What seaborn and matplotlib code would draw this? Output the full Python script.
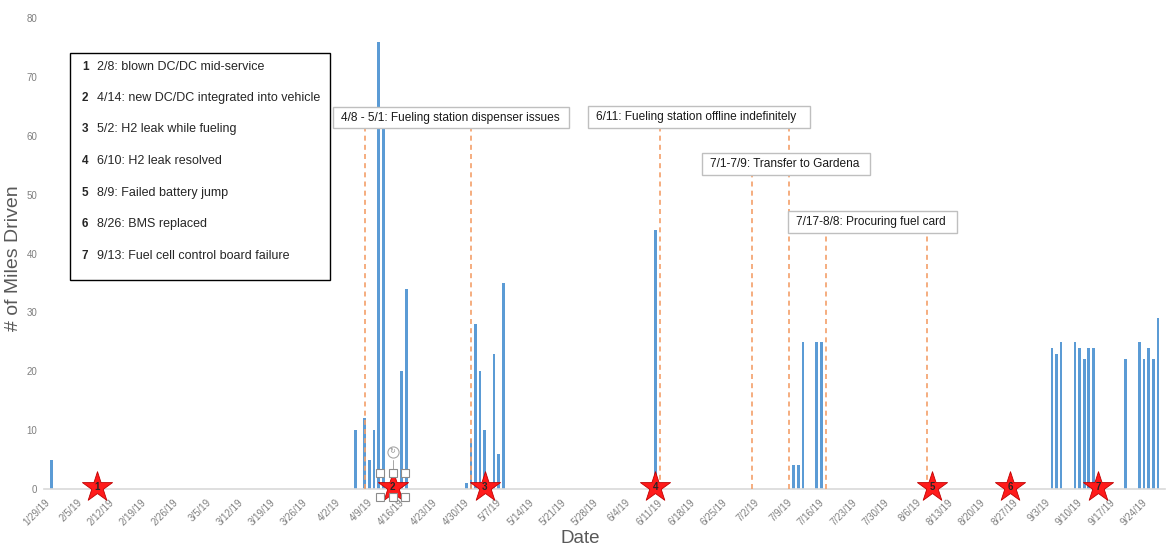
import matplotlib
matplotlib.use('Agg')
import matplotlib.pyplot as plt
import seaborn as sns
import pandas as pd
from matplotlib.patches import Rectangle

# ---------------- data ----------------
start_date = '2019-01-29'
end_date = '2019-09-28'

drive_dates = ['2019-01-30',
               '2019-04-06', '2019-04-08', '2019-04-09', '2019-04-10', '2019-04-11', '2019-04-12',
               '2019-04-16', '2019-04-17',
               '2019-04-30', '2019-05-01', '2019-05-02', '2019-05-03', '2019-05-04', '2019-05-06',
               '2019-05-07', '2019-05-08',
               '2019-06-10',
               '2019-07-10', '2019-07-11', '2019-07-12', '2019-07-15', '2019-07-16',
               '2019-09-04', '2019-09-05', '2019-09-06', '2019-09-09', '2019-09-10', '2019-09-11',
               '2019-09-12', '2019-09-13',
               '2019-09-20', '2019-09-23', '2019-09-24', '2019-09-25', '2019-09-26', '2019-09-27']
miles = [5,
         10, 12, 5, 10, 76, 63,
         20, 34,
         1, 8.5, 28, 20, 10, 23,
         6, 35,
         44,
         4, 4, 25, 25, 25,
         24, 23, 25, 25, 24, 22,
         24, 24,
         22, 25, 22, 24, 22, 29]

# event stars (drawn positions) and their numbers
star_dates = ['2019-02-09', '2019-04-14', '2019-05-04', '2019-06-10', '2019-08-09', '2019-08-26', '2019-09-14']
star_nums = ['1', '2', '3', '4', '5', '6', '7']

legend_items = ['2/8: blown DC/DC mid-service',
                '4/14: new DC/DC integrated into vehicle',
                '5/2: H2 leak while fueling',
                '6/10: H2 leak resolved',
                '8/9: Failed battery jump',
                '8/26: BMS replaced',
                '9/13: Fuel cell control board failure']

period_texts = ['4/8 - 5/1: Fueling station dispenser issues',
                '6/11: Fueling station offline indefinitely',
                '7/1-7/9: Transfer to Gardena',
                '7/17-8/8: Procuring fuel card']
period_lines = [['2019-04-08', '2019-05-01'],
                ['2019-06-11', '2019-07-09'],
                ['2019-07-01'],
                ['2019-07-17', '2019-08-08']]

# ---------------- build frame ----------------
days = pd.date_range(start_date, end_date, freq='D')
t0 = pd.Timestamp(start_date)
df = pd.DataFrame({'date': days})
drive = pd.DataFrame({'date': pd.to_datetime(drive_dates), 'miles': miles})
df = df.merge(drive, on='date', how='left').fillna({'miles': 0})
df['idx'] = (df['date'] - t0).dt.days

def didx(s):
    return (pd.Timestamp(s) - t0).days

# ---------------- figure ----------------
sns.set_style('white')
plt.rcParams['font.family'] = ['Liberation Sans', 'DejaVu Sans']

fig = plt.figure(figsize=(11.67, 5.46), dpi=100)
ax = fig.add_axes([0.038, 0.1044, 0.9602, 0.8626])

sns.barplot(data=df, x='idx', y='miles', color='#5b9bd5', width=0.58,
            saturation=1, ax=ax, zorder=2, linewidth=0)

n = len(days)
ax.set_xlim(-0.5, n - 0.5)
ax.set_ylim(0, 80)

tick_pos = list(range(0, n, 7))
ax.set_xticks([p - 0.5 for p in tick_pos])
ax.set_xticklabels([f"{days[p].month}/{days[p].day}/19" for p in tick_pos],
                   rotation=45, ha='right', rotation_mode='anchor',
                   fontsize=7, color='#7f7f7f')
ax.set_yticks(range(0, 81, 10))
ax.set_yticklabels([str(v) for v in range(0, 81, 10)], fontsize=7, color='#7f7f7f')
ax.tick_params(axis='x', length=4, color='#d9d9d9', pad=2)
ax.tick_params(axis='y', length=0, pad=5)

for s in ['top', 'right', 'left']:
    ax.spines[s].set_visible(False)
ax.spines['bottom'].set_color('#d9d9d9')
ax.spines['bottom'].set_linewidth(1.2)

ax.set_xlabel('Date', fontsize=13.5, color='#595959')
ax.xaxis.set_label_coords(0.478, -0.106)
ax.xaxis.label.set_va('center')
ax.set_ylabel('# of Miles Driven', fontsize=14, color='#595959')
ax.yaxis.set_label_coords(-0.0272, 0.49)
ax.yaxis.label.set_va('center')

# ---------------- period boxes & dashed lines ----------------
box_geom = [(62.1, 113.3, 61.3, 64.9),
            (117.4, 165.5, 61.3, 65.05),
            (142.1, 178.5, 53.3, 57.1),
            (160.8, 197.4, 43.5, 47.2)]
line_color = '#f4a06a'
for lines, (x0, x1, y0, y1) in zip(period_lines, box_geom):
    for d in lines:
        ax.vlines(didx(d), 0, y0, colors=line_color, linestyles=(0, (3, 2.5)),
                  linewidth=1.2, zorder=3)
for txt, (x0, x1, y0, y1) in zip(period_texts, box_geom):
    ax.add_patch(Rectangle((x0, y0), x1 - x0, y1 - y0, facecolor='white',
                           edgecolor='#bfbfbf', linewidth=1.0, zorder=5))
    ax.text(x0 + 1.8, (y0 + y1) / 2, txt, fontsize=8.6, color='#1a1a1a',
            ha='left', va='center', zorder=6)

# ---------------- legend box ----------------
ax.add_patch(Rectangle((0.0229, 0.4437), 0.2321, 0.482, transform=ax.transAxes,
                       facecolor='white', edgecolor='black', linewidth=1.0, zorder=5))
row_px = [67, 98, 129, 161, 193, 224, 256]
for num, item, py in zip(star_nums, legend_items, row_px):
    yy = (489 - py) / 471
    ax.text(0.0364, yy, num, transform=ax.transAxes, fontsize=8.5, fontweight='bold',
            ha='center', va='center', zorder=6)
    ax.text(0.047, yy, item, transform=ax.transAxes, fontsize=9,
            ha='left', va='center', zorder=6)

# ---------------- stars ----------------
star_df = pd.DataFrame({'x': [didx(d) for d in star_dates], 'y': [0.3] * len(star_dates)})

# selection handles around star 2 (editing artefact visible in the reference)
sx = star_df['x'].iloc[1]
for dx in (-2.8, 0, 2.8):
    for yv in (2.8, -1.3):
        ax.plot(sx + dx, yv, marker='s', ms=6, mfc='white', mec='#8c8c8c', mew=0.8,
                zorder=9, clip_on=False)
ax.plot([sx, sx], [2.8, 5.0], color='#a6a6a6', lw=0.7, zorder=8)
ax.plot(sx, 6.3, marker='o', ms=8, mfc='white', mec='#a6a6a6', mew=0.8, zorder=9)
ax.text(sx, 6.3, '↻', fontsize=5, color='#8c8c8c', ha='center', va='center', zorder=10)

sns.scatterplot(data=star_df, x='x', y='y', marker='*', s=520, color='#ff1a1a',
                edgecolor='#c00000', linewidth=0.6, ax=ax, zorder=7, clip_on=False,
                legend=False)
for x, num in zip(star_df['x'], star_nums):
    ax.text(x, 0.3, num, fontsize=7, fontweight='bold', ha='center', va='center',
            zorder=8, clip_on=False)

fig.savefig('out.png', dpi=100)
